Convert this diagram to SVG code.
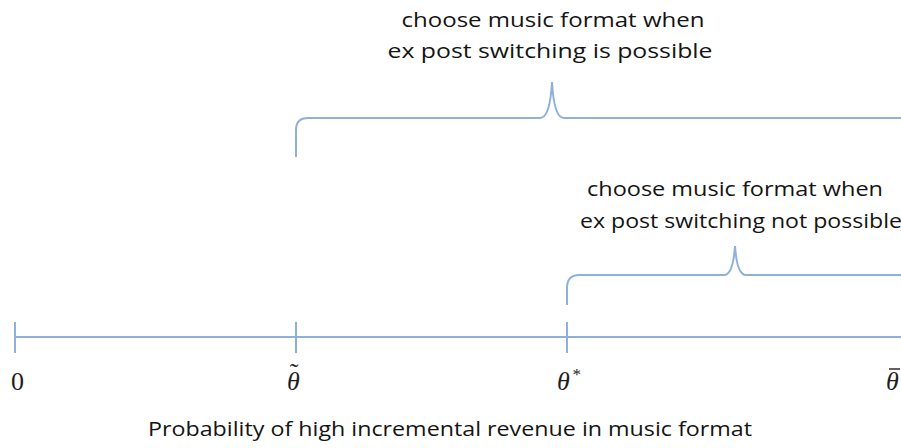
<svg xmlns="http://www.w3.org/2000/svg" width="901" height="448" viewBox="0 0 901 448">
<style>
.ln{fill:none;stroke:#8fb1d9;stroke-width:2}
.t{font-family:"Open Sans","Liberation Sans",sans-serif;font-size:20px;fill:#141414;text-anchor:middle}
.m{font-family:"Liberation Serif","DejaVu Serif",serif;font-size:26px;fill:#1e1e1e}
.i{font-style:italic}
</style>
<rect width="901" height="448" fill="#fff"/>
<g id="axis">
<line class="ln" x1="15" y1="337" x2="901" y2="337"/>
<line class="ln" x1="15" y1="322" x2="15" y2="353"/>
<line class="ln" x1="296" y1="322" x2="296" y2="353"/>
<line class="ln" x1="567" y1="322" x2="567" y2="353"/>
</g>
<g id="labels">
<text class="m" x="11" y="390">0</text>
<text class="m i" x="287" y="390">θ<tspan class="m" font-style="normal" font-size="22" dx="-10" dy="-9">˜</tspan></text>
<text class="m i" x="557" y="390">θ<tspan font-size="17" dy="-10" dx="2">*</tspan></text>
<text class="m i" x="886" y="390">θ</text>
<line x1="889" y1="369" x2="900" y2="369" stroke="#1e1e1e" stroke-width="1.4"/>
</g>
<g id="brace-upper">
<path class="ln" d="M296,157 L296,130 Q296,118 308,118 L540,118 Q550,118 552,82 Q554,118 564,118 L901,118"/>
<text class="t" x="553" y="27" textLength="303" lengthAdjust="spacingAndGlyphs">choose music format when</text>
<text class="t" x="550" y="58" textLength="325" lengthAdjust="spacingAndGlyphs">ex post switching is possible</text>
</g>
<g id="brace-lower">
<path class="ln" d="M567,305 L567,288 Q567,275 579,275 L724,275 Q733,275 735,246 Q737,275 746,275 L901,275"/>
<text class="t" x="735" y="196" textLength="296" lengthAdjust="spacingAndGlyphs">choose music format when</text>
<text class="t" x="741" y="228" textLength="322" lengthAdjust="spacingAndGlyphs">ex post switching not possible</text>
</g>
<g id="axis-title">
<text class="t" x="450" y="436" textLength="604" lengthAdjust="spacingAndGlyphs">Probability of high incremental revenue in music format</text>
</g>
</svg>
